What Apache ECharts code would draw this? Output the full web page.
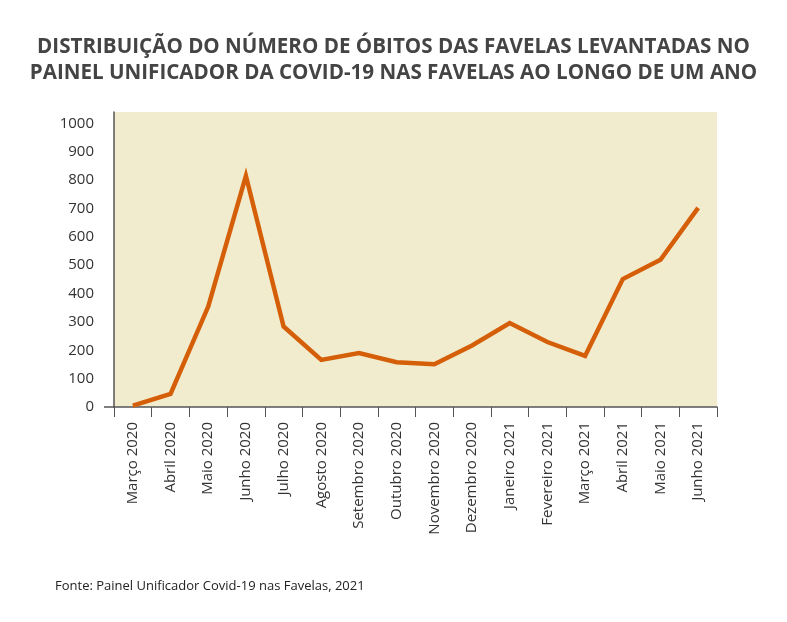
<!DOCTYPE html>
<html><head><meta charset="utf-8">
<script src="https://cdn.jsdelivr.net/npm/echarts@6/dist/echarts.min.js"></script>
<style>html,body{margin:0;padding:0;background:#fff}#c{width:787px;height:622px}</style>
</head><body><div id="c"></div>
<script>
const months = ['Março 2020','Abril 2020','Maio 2020','Junho 2020','Julho 2020','Agosto 2020','Setembro 2020','Outubro 2020','Novembro 2020','Dezembro 2020','Janeiro 2021','Fevereiro 2021','Março 2021','Abril 2021','Maio 2021','Junho 2021'];
const deaths = [5, 46, 354, 815, 284, 166, 190, 158, 151, 217, 296, 229, 180, 451, 519, 702];
const yTicks = [0,100,200,300,400,500,600,700,800,900,1000];
const titleText = 'DISTRIBUIÇÃO DO NÚMERO DE ÓBITOS DAS FAVELAS LEVANTADAS NO\nPAINEL UNIFICADOR DA COVID-19 NAS FAVELAS AO LONGO DE UM ANO';
const sourceText = 'Fonte: Painel Unificador Covid-19 nas Favelas, 2021';

const chart = echarts.init(document.getElementById('c'), null, {renderer:'canvas'});
chart.setOption({
  animation:false,
  backgroundColor:'#fff',
  textStyle:{fontFamily:'Open Sans'},
  title:[{
    text:titleText, left:'center', top:29,
    textStyle:{fontFamily:'Open Sans', fontWeight:'bold', fontSize:20.6, color:'#444', lineHeight:26}
  },{
    text:sourceText, left:50, top:575,
    textStyle:{fontFamily:'Open Sans', fontWeight:'normal', fontSize:13, color:'#222'}
  }],
  grid:{left:114, right:70, top:112, bottom:215, show:true, backgroundColor:'#f2ecce', borderWidth:0},
  xAxis:{
    type:'category', data:months, boundaryGap:true,
    axisLine:{lineStyle:{color:'#555', width:1.5}},
    axisTick:{show:true, length:10, lineStyle:{color:'#555'}},
    axisLabel:{rotate:90, fontSize:15, color:'#333', margin:15, interval:0, padding:[10,0,0,0]}
  },
  yAxis:{
    type:'value', min:0, max:1040,
    splitLine:{show:false},
    axisLine:{show:true, lineStyle:{color:'#555', width:1.5}},
    axisTick:{show:true, customValues:[0], length:10, lineStyle:{color:'#555', width:1.5}},
    axisLabel:{customValues:yTicks, fontSize:15, color:'#333', margin:20, formatter:function(v){return String(v);}}
  },
  series:[{
    type:'line', data:deaths, symbol:'none',
    lineStyle:{color:'#d55f08', width:4.5, join:'miter'},
    itemStyle:{color:'#d55f08'}
  }]
});
</script></body></html>
